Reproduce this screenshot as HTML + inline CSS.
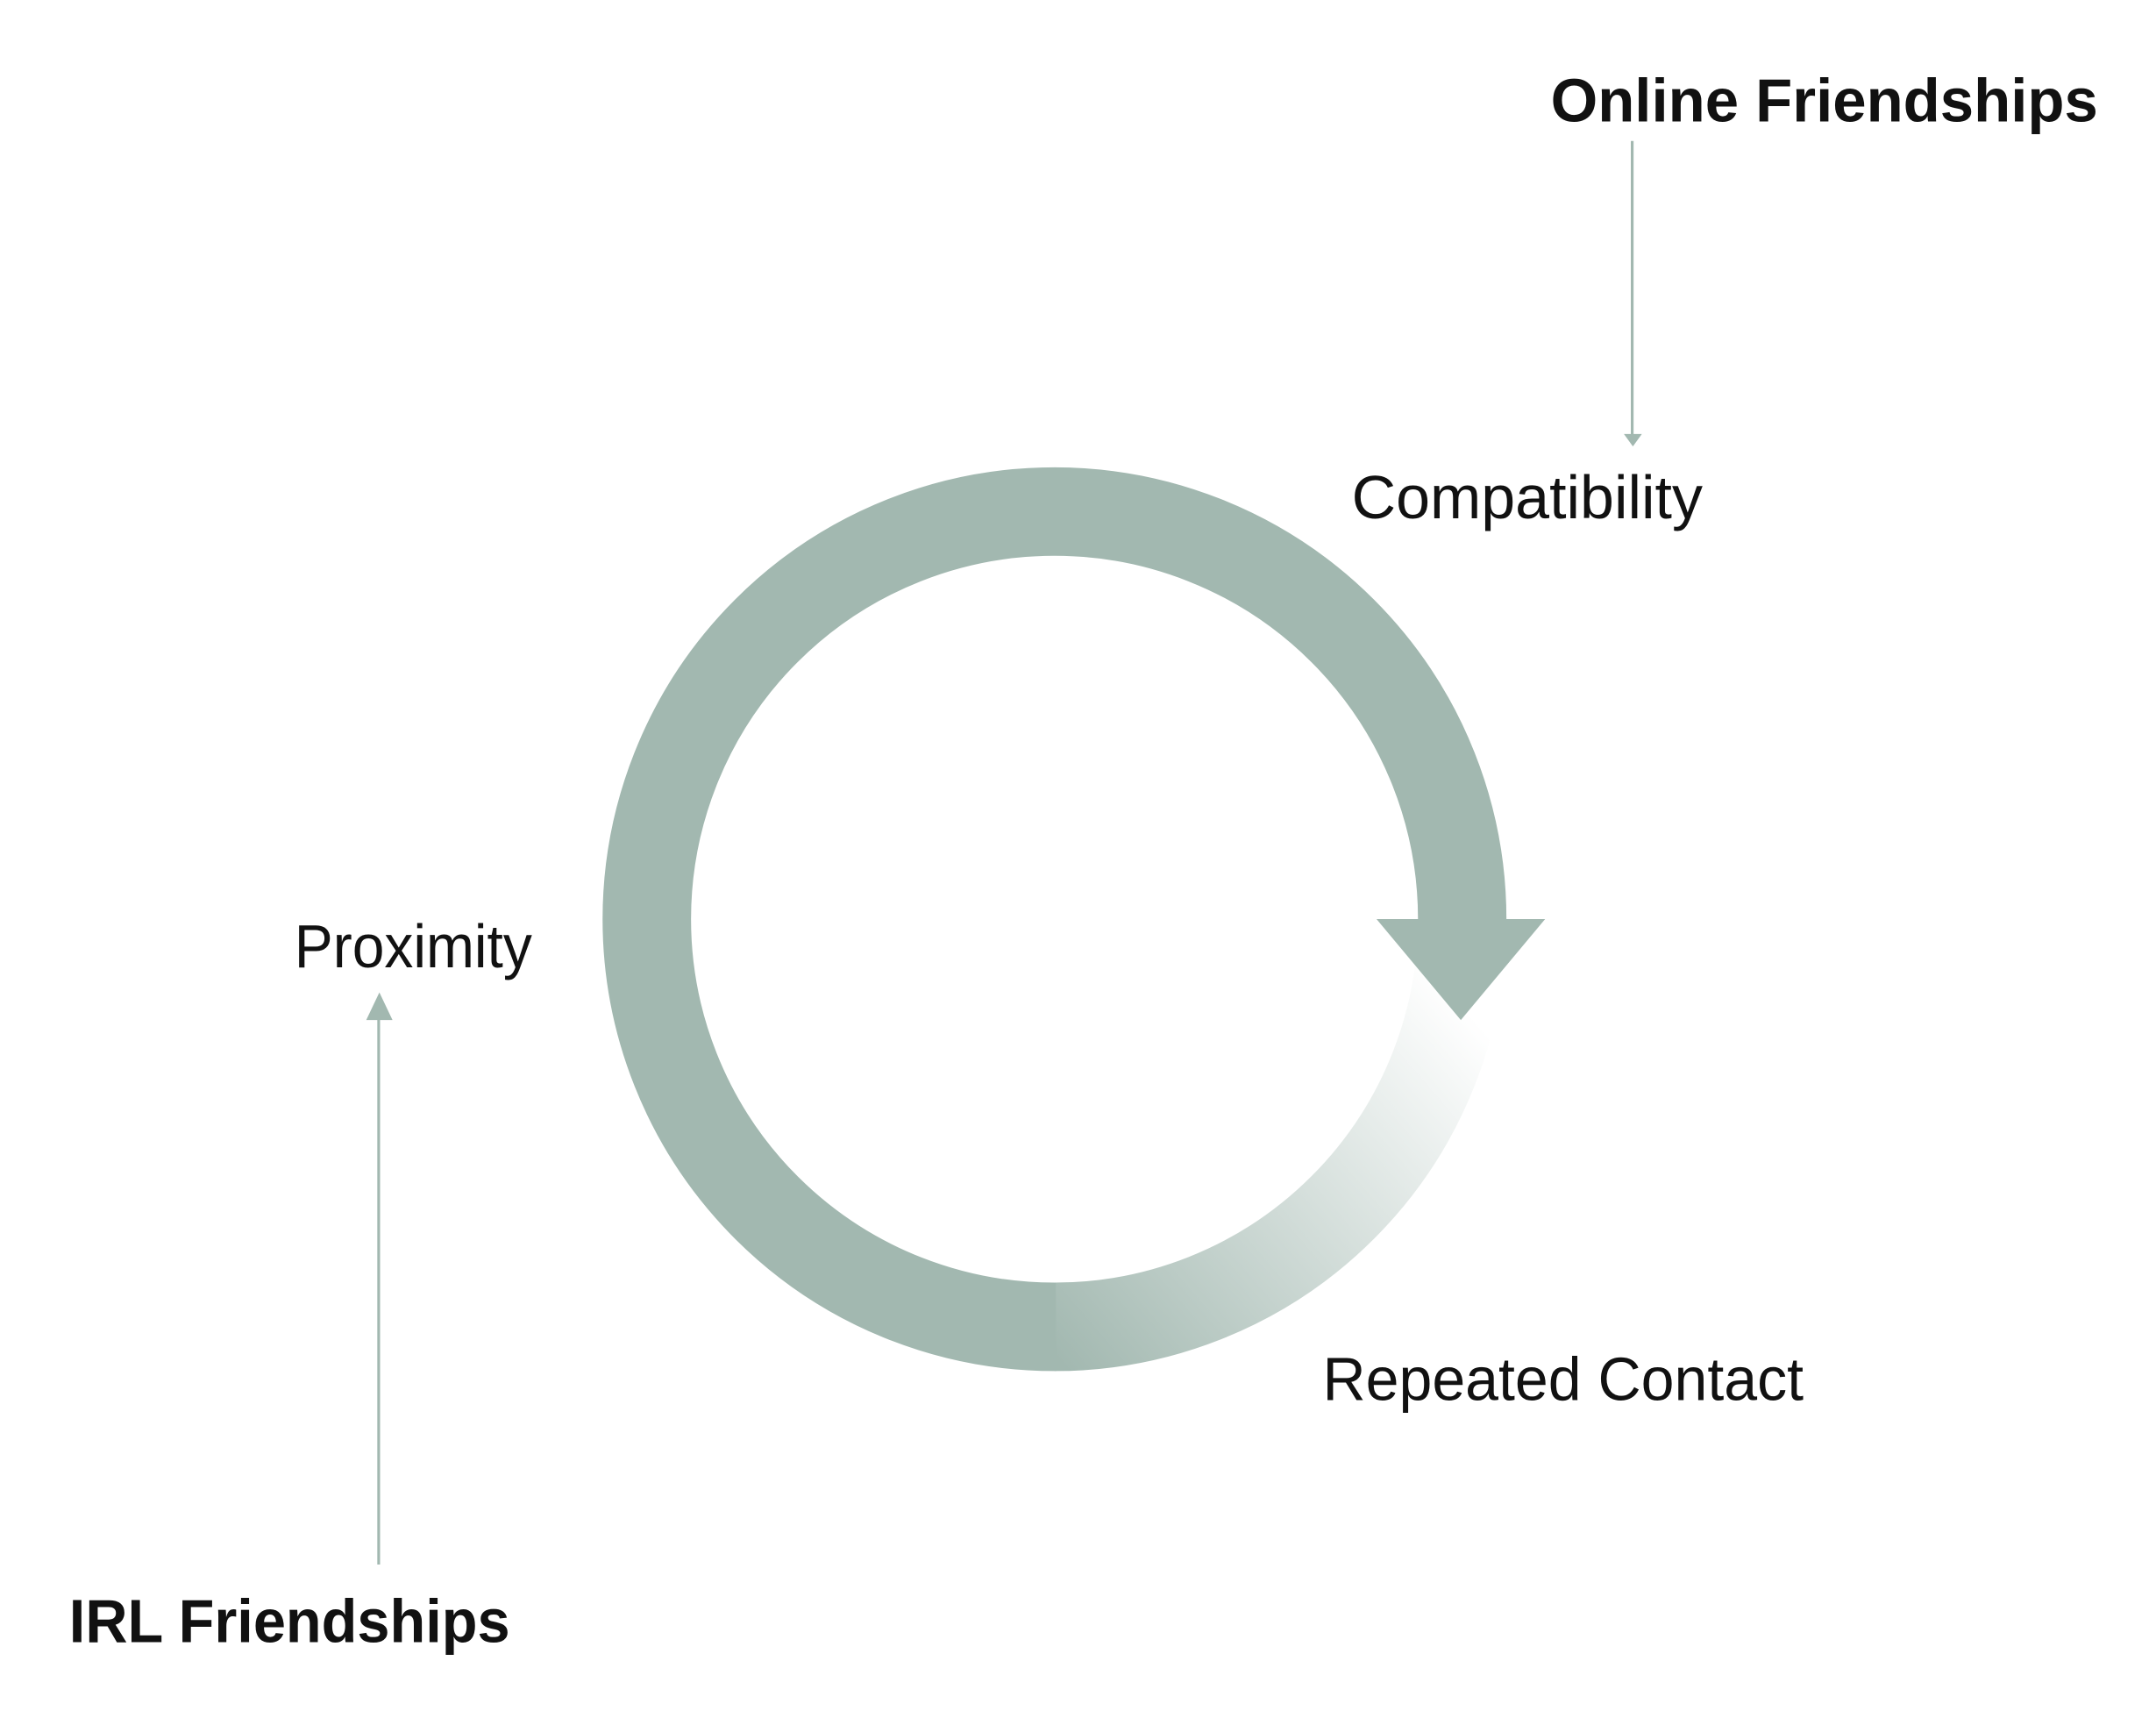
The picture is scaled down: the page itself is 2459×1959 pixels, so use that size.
<!DOCTYPE html>
<html><head><meta charset="utf-8"><style>
html,body{margin:0;padding:0;background:#fff;}
svg{display:block;}
</style></head><body>
<svg width="2459" height="1959" viewBox="0 0 1560 1243" preserveAspectRatio="none" xmlns="http://www.w3.org/2000/svg">
<defs>
<linearGradient id="g" gradientUnits="userSpaceOnUse" x1="770" y1="990" x2="1065" y2="735">
<stop offset="0" stop-color="#a2b8b0"/>
<stop offset="1" stop-color="#ffffff"/>
</linearGradient>
</defs>
<path d="M1058 665 A295 295 0 0 1 763 960" fill="none" stroke="url(#g)" stroke-width="64"/>
<path d="M764 960 A295 295 0 0 1 468 665 A295 295 0 0 1 1058 665" fill="none" stroke="#a2b8b0" stroke-width="64"/>
<polygon points="996,665 1118,665 1057,738" fill="#a2b8b0"/>
<line x1="1181" y1="102" x2="1181" y2="316" stroke="#a2b8b0" stroke-width="2"/>
<polygon points="1175,314 1188,314 1181.5,323" fill="#a2b8b0"/>
<line x1="274" y1="1132" x2="274" y2="736" stroke="#a2b8b0" stroke-width="2"/>
<polygon points="265,738 284,738 274.5,718" fill="#a2b8b0"/>
<g font-family="Liberation Sans, sans-serif" fill="#111">
<text x="1122" y="88" font-size="44" font-weight="bold" textLength="396" lengthAdjust="spacingAndGlyphs">Online Friendships</text>
<text x="978" y="375" font-size="44" textLength="254" lengthAdjust="spacingAndGlyphs">Compatibility</text>
<text x="213" y="700" font-size="44" textLength="172" lengthAdjust="spacingAndGlyphs">Proximity</text>
<text x="957" y="1013" font-size="44" textLength="348" lengthAdjust="spacingAndGlyphs">Repeated Contact</text>
<text x="50" y="1188" font-size="44" font-weight="bold" textLength="319" lengthAdjust="spacingAndGlyphs">IRL Friendships</text>
</g>
</svg>
</body></html>
